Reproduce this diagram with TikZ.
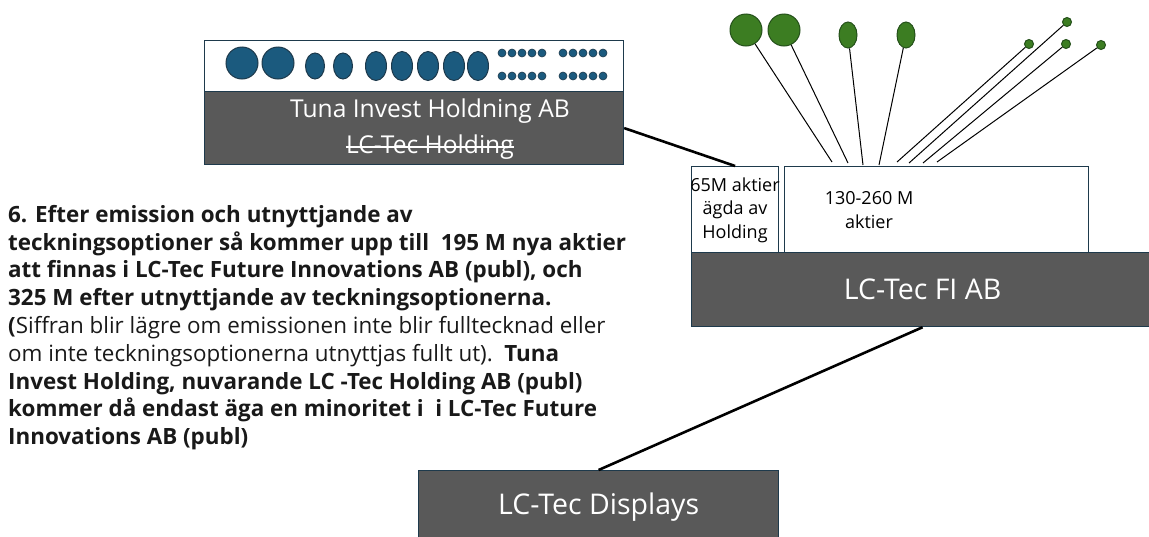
\documentclass[tikz,border=0pt]{standalone}
\usepackage{fontspec}
\setmainfont{Open Sans}
\usetikzlibrary{positioning,shapes.geometric}
\definecolor{boxgray}{HTML}{595959}
\definecolor{edgeteal}{HTML}{1E3A4C}
\definecolor{dotblue}{HTML}{1B5A7E}
\definecolor{leafgreen}{HTML}{3C7D22}
\definecolor{leafedge}{HTML}{24501A}

\tikzset{
  darkbox/.style={draw=edgeteal, fill=boxgray, line width=1.2pt, text=white, anchor=north west, inner sep=0pt, align=center, font=\fontsize{28.5}{34}\selectfont},
  whitebox/.style={draw=edgeteal, fill=white, line width=1.2pt, anchor=north west, inner sep=0pt},
  boxtext/.style={text=white, inner sep=0pt, font=\fontsize{24.6}{34}\selectfont},
  smalltext/.style={align=center, inner sep=0pt, font=\fontsize{18}{23.5}\selectfont},
  leaf/.style={draw=leafedge, fill=leafgreen, line width=1pt, inner sep=0pt},
  stem/.style={black, line width=1pt},
  link/.style={black, line width=2.6pt},
}

\begin{document}
\begin{tikzpicture}[x=1pt,y=-1pt]
\useasboundingbox (0,0) rectangle (1149,536);

% holding company with its owners
\node[whitebox, minimum width=419, minimum height=51] (owners) at (204,40) {};
\node[darkbox, minimum width=419, minimum height=73] (tuna) at (204,91) {};
\node[boxtext] (tunaname) at (430,111) {Tuna Invest Holdning AB};
\node[boxtext] (oldname) at (430,147) {LC-Tec Holding};
\draw[white, line width=1.2pt] (oldname.west) -- (oldname.east);
\foreach \x in {242,278}
  \filldraw[draw=edgeteal, fill=dotblue, line width=1pt] (\x,63) circle (16);
\foreach \x in {315,343}
  \filldraw[draw=edgeteal, fill=dotblue, line width=1pt] (\x,66) ellipse (9.5 and 13);
\foreach \x in {376,402,428,454,478}
  \filldraw[draw=edgeteal, fill=dotblue, line width=1pt] (\x,66) ellipse (10.5 and 14.5);
\foreach \x in {502,512,522,532,542,563,573,583,593,603}
  \foreach \y in {53,76}
    \filldraw[draw=edgeteal, fill=dotblue, line width=0.6pt] (\x,\y) circle (4);

% LC-Tec FI AB and its shares
\node[whitebox, minimum width=87, minimum height=86] (held) at (691,166) {};
\node[smalltext] (heldtext) at (735,210) {65M aktier\\ägda av\\Holding};
\node[whitebox, minimum width=304, minimum height=86] (newshares) at (784,166) {};
\node[smalltext] (newtext) at (869,210) {130-260 M\\aktier};
\node[darkbox, minimum width=462, minimum height=74] (fi) at (691,252) {LC-Tec FI AB};
\node[darkbox, minimum width=360, minimum height=72] (displays) at (418,470) {LC-Tec Displays};

\draw[link] (tuna.east) -- (held.north);
\draw[link] (fi.south) -- (displays.north);

% new shareholders
\node[leaf, circle, minimum size=32] (g1) at (746,30) {};
\node[leaf, circle, minimum size=32] (g2) at (784,30) {};
\node[leaf, ellipse, minimum width=18, minimum height=26] (g3) at (848,35) {};
\node[leaf, ellipse, minimum width=18, minimum height=26] (g4) at (906,35) {};
\node[leaf, circle, minimum size=9] (g5) at (1029,44) {};
\node[leaf, circle, minimum size=9] (g6) at (1067,22) {};
\node[leaf, circle, minimum size=9] (g7) at (1066,44) {};
\node[leaf, circle, minimum size=9] (g8) at (1101,45) {};
\coordinate (e1) at (832,162);
\coordinate (e2) at (848,163);
\coordinate (e3) at (863,165);
\coordinate (e4) at (879,165);
\coordinate (e5) at (897,162);
\coordinate (e6) at (909,163);
\coordinate (e7) at (923,163);
\coordinate (e8) at (937,162);
\foreach \i in {1,...,8}
  \draw[stem] (g\i) -- (e\i);

% explanation
\node[anchor=north west, align=left, inner sep=0pt, text=black!90, font=\fontsize{22.4}{27.8}\selectfont] (note) at (8,205)
 {\textbf{6. Efter emission och utnyttjande av}\\
  \textbf{teckningsoptioner så kommer upp till\ \ 195 M nya aktier}\\
  \textbf{att finnas i LC-Tec Future Innovations AB (publ), och}\\
  \textbf{325 M efter utnyttjande av teckningsoptionerna.}\\
  \textbf{(}Siffran blir lägre om emissionen inte blir fulltecknad eller\\
  om inte teckningsoptionerna utnyttjas fullt ut).\ \ \textbf{Tuna}\\
  \textbf{Invest Holding, nuvarande LC -Tec Holding AB (publ)}\\
  \textbf{kommer då endast äga en minoritet i\ \ i LC-Tec Future}\\
  \textbf{Innovations AB (publ)}};
\end{tikzpicture}
\end{document}
